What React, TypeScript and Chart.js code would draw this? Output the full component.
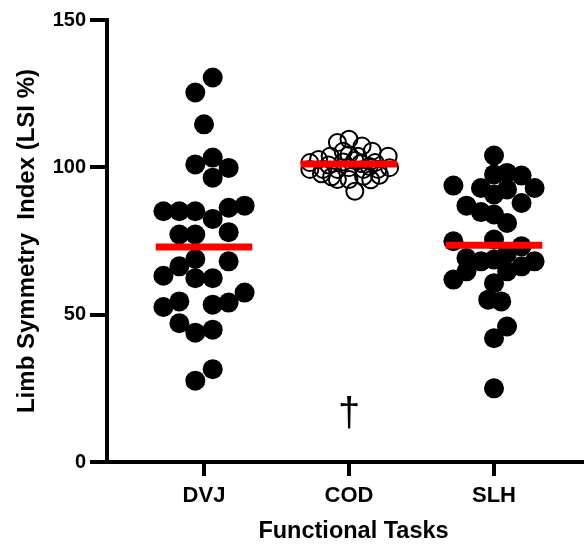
import React, { useEffect, useRef } from "react";
import { Chart, registerables } from "chart.js";

Chart.register(...registerables);

const categories = ["DVJ", "COD", "SLH"];
const yTicks = [0, 50, 100, 150];
const xTitle = "Functional Tasks";
const yTitle = "Limb Symmetry  Index (LSI %)";
const medians = [73, 101.1, 73.6];
const daggerText = "\u2020";
const daggerCategory = 1;
const daggerValue = 12.1;

const dvjValues = [
  130.5, 125.4, 114.6, 103.3, 101, 99.8, 96.5, 85.1, 85.1, 85.1, 82.5, 86.3, 87,
  77.2, 77.2, 78, 68.9, 66.4, 63.2, 62.4, 62.4, 68.1, 57.5, 54.1, 53.4, 54.5,
  52.6, 47.1, 43.9, 44.9, 31.5, 27.6,
];
const dvjJitter = [
  0.06, -0.06, 0, 0.06, -0.06, 0.17, 0.06, -0.28, -0.17, -0.06, 0.06, 0.17, 0.28,
  -0.17, -0.06, 0.17, -0.06, -0.17, -0.28, -0.06, 0.06, 0.17, 0.28, 0.17, 0.06,
  -0.17, -0.28, -0.17, -0.06, 0.06, 0.06, -0.06,
];

const codValues = [
  108.4, 109.5, 107.2, 105.5, 105.5, 103.8, 102.7, 103.8, 103.8, 101.6, 101.6,
  99.3, 99.3, 99.3, 99.9, 99.3, 99.3, 99.9, 95.9, 95.9, 97, 91.9, 100.8, 100.3,
  101.8, 102.3, 97.8, 97.3, 96.8, 95.8, 104.3, 101.3,
];
const codJitter = [
  -0.08, 0, 0.09, 0.16, -0.04, -0.13, -0.21, 0.27, 0.06, -0.27, 0.18, -0.27,
  -0.18, -0.08, 0, 0.1, 0.2, 0.28, -0.08, 0, 0.1, 0.04, -0.14, 0.14, -0.04, 0.04,
  -0.19, 0.21, -0.12, 0.15, 0, 0.08,
];

const slhValues = [
  104, 93.8, 97.6, 98.1, 97.2, 93, 93, 90.8, 92.5, 87.9, 87, 84.8, 84, 81.1, 74.9,
  75.5, 73.2, 69.2, 68.7, 68.1, 66.4, 64.7, 61.9, 64.7, 60.7, 68.1, 55.1, 54.5,
  46, 42, 25, 70.8,
];
const slhJitter = [
  0, -0.28, 0, 0.09, 0.19, 0.28, -0.09, 0, 0.09, 0.19, -0.19, -0.09, 0, 0.09,
  -0.28, 0, 0.19, -0.19, 0, 0.28, 0.19, -0.19, -0.28, 0.09, 0, -0.09, -0.04,
  0.05, 0.09, 0, 0, 0.09,
];

const FONT = "'Liberation Sans', Arial, sans-serif";

const toPoints = (ci: number, vals: number[], jit: number[]) =>
  vals.map((v, i) => ({ x: ci + 1 + jit[i], y: v }));

export default function App() {
  const ref = useRef<HTMLCanvasElement | null>(null);

  useEffect(() => {
    if (!ref.current) return;
    const halfWidth = 0.333;
    const medianSets = medians.map((m, i) => ({
      type: "line" as const,
      data: [
        { x: i + 1 - halfWidth, y: m },
        { x: i + 1 + halfWidth, y: m },
      ],
      borderColor: "#ff0000",
      borderWidth: 7,
      borderCapStyle: "butt" as const,
      pointRadius: 0,
      order: 0,
    }));

    const daggerPlugin = {
      id: "dagger",
      afterDatasetsDraw(chart: any) {
        const { ctx, scales } = chart;
        ctx.save();
        ctx.fillStyle = "#000";
        ctx.font = `40px ${FONT}`;
        ctx.textAlign = "center";
        ctx.textBaseline = "alphabetic";
        ctx.fillText(
          daggerText,
          scales.x.getPixelForValue(daggerCategory + 1),
          scales.y.getPixelForValue(daggerValue)
        );
        ctx.restore();
      },
    };

    const chart = new Chart(ref.current, {
      type: "scatter",
      data: {
        datasets: [
          ...medianSets,
          {
            type: "scatter",
            data: toPoints(0, dvjValues, dvjJitter),
            backgroundColor: "#000",
            borderWidth: 0,
            pointRadius: 10,
            order: 1,
          },
          {
            type: "scatter",
            data: toPoints(1, codValues, codJitter),
            backgroundColor: "rgba(0,0,0,0)",
            borderColor: "#000",
            borderWidth: 2,
            pointRadius: 8.5,
            order: 1,
          },
          {
            type: "scatter",
            data: toPoints(2, slhValues, slhJitter),
            backgroundColor: "#000",
            borderWidth: 0,
            pointRadius: 10,
            order: 1,
          },
        ] as any,
      },
      options: {
        animation: false,
        responsive: false,
        maintainAspectRatio: false,
        events: [],
        layout: { autoPadding: false, padding: { top: 20, left: 0, right: 0, bottom: 0 } },
        plugins: {
          legend: { display: false },
          tooltip: { enabled: false },
        },
        scales: {
          x: {
            type: "linear",
            min: 0.331,
            max: 3.731,
            afterBuildTicks: (s: any) => {
              s.ticks = categories.map((_, i) => ({ value: i + 1 }));
            },
            afterFit: (s: any) => {
              s.height = 84;
              s.paddingLeft = 0;
              s.paddingRight = 0;
            },
            grid: {
              display: true,
              drawOnChartArea: false,
              drawTicks: true,
              tickLength: 14,
              lineWidth: 4,
              color: "#000",
            },
            border: { display: true, width: 4, color: "#000" },
            ticks: {
              callback: (v: any) => categories[Math.round(Number(v)) - 1] ?? "",
              font: { family: FONT, size: 22, weight: "bold" },
              color: "#000",
              padding: 7,
              maxRotation: 0,
              autoSkip: false,
            },
            title: {
              display: true,
              text: xTitle,
              font: { family: FONT, size: 23.5, weight: "bold" },
              color: "#000",
              padding: { top: 0, bottom: 0 },
            },
          },
          y: {
            type: "linear",
            min: 0,
            max: 150,
            afterBuildTicks: (s: any) => {
              s.ticks = yTicks.map((v) => ({ value: v }));
            },
            afterFit: (s: any) => {
              s.width = 107;
            },
            grid: {
              display: true,
              drawOnChartArea: false,
              drawTicks: true,
              tickLength: 17,
              lineWidth: 4,
              color: "#000",
            },
            border: { display: true, width: 4, color: "#000" },
            ticks: {
              font: { family: FONT, size: 20, weight: "bold" },
              color: "#000",
              padding: 4,
            },
            title: {
              display: true,
              text: yTitle,
              font: { family: FONT, size: 24, weight: "bold" },
              color: "#000",
              padding: { top: 12.5, bottom: 0 },
            },
          },
        },
      } as any,
      plugins: [daggerPlugin],
    });
    return () => chart.destroy();
  }, []);

  return (
    <div
      style={{
        position: "absolute",
        left: 0,
        top: 0,
        width: 584,
        height: 546,
        overflow: "hidden",
        background: "#fff",
      }}
    >
      <canvas ref={ref} width={600} height={546} style={{ width: 600, height: 546, display: "block" }} />
    </div>
  );
}
